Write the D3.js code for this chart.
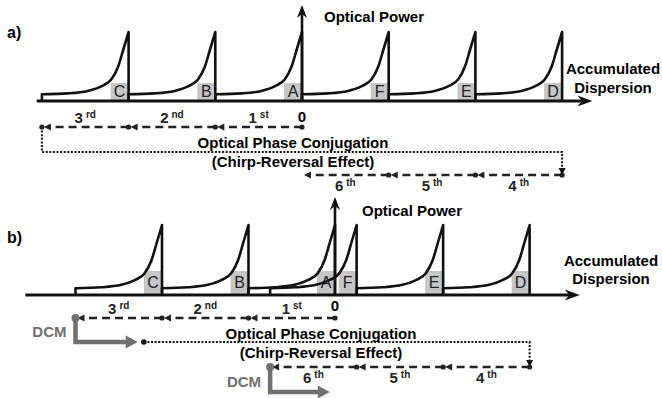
<!DOCTYPE html>
<html>
<head>
<meta charset="utf-8">
<script src="https://cdn.jsdelivr.net/npm/d3@7"></script>
<style>
  body { margin: 0; background: #fff; }
  svg { display: block; font-family: "Liberation Sans", Arial, sans-serif; }
</style>
</head>
<body>
<div class="figure"></div>
<script>
// Pulse labels, left to right along the dispersion axis
const pulseNames = ["C", "B", "A", "F", "E", "D"];

// Peak position of each pulse (in units of one span of accumulated dispersion)
const peaksA = [-2, -1, 0, 1, 2, 3];
const peaksB = [-2, -1, 0, 0.25, 1.25, 2.25];

// Where the tail of each pulse starts
const startsA = [-3, -2, -1, 0, 1, 2];
const startsB = [-3, -2, -1, -0.75, 0.25, 1.25];

// Pulse shape: [fraction of the rise, fraction of peak power]
const profile = [[0, 0.097], [0.3, 0.11], [0.53, 0.145], [0.69, 0.215], [0.8, 0.31], [0.88, 0.5], [0.94, 0.75], [1, 1]];

// Spans in order 1st..6th: [from, to] of accumulated dispersion
const spanNumbers = ["1", "2", "3", "4", "5", "6"];
const spanSuffixes = ["st", "nd", "rd", "th", "th", "th"];
const spansA = [[0, -1], [-1, -2], [-2, -3], [3, 2], [2, 1], [1, 0]];
const spansB = [[0, -1], [-1, -2], [-2, -3], [2.25, 1.25], [1.25, 0.25], [0.25, -0.75]];

// Extent of the dispersion axis
const axisA = [-3.06, 3.35];
const axisB = [-3.58, 2.83];

// Optical phase conjugation jump: [from, to]
const opcA = [-3, 3];
const opcB = [-2.21, 2.25];

// Dispersion compensating modules (only in b): [from, to]
const dcmB = [[-3, -2.28], [-0.75, -0.06]];

let width = 662;
let height = 398;

let svg = d3.select(".figure").append("svg")
    .attr("width", width)
    .attr("height", height)
    .attr("viewBox", `0 0 ${width} ${height}`);

const ink = "#111";
const gray = "#707070";

// Layout of the two panels
let panelA = {
    label: "a)", labelY: 38,
    peaks: peaksA, starts: startsA, spans: spansA, axis: axisA, opc: opcA, dcm: [],
    range: [41.9, 562.1], base: 101, peak: 32, axisTop: 5,
    row1: 127, row2: 175, opcY: 152, opcFromRow: true,
    boxTop: 83, letterY: 97, ordY1: 123, ordY2: 191, zeroY: 122,
    opX: 324, opY: 22, accX: 613, accY: [74, 93],
    opcTextX: 293, opcTextY: [148, 167],
    dcmLevels: []
};

let panelB = {
    label: "b)", labelY: 243,
    peaks: peaksB, starts: startsB, spans: spansB, axis: axisB, opc: opcB, dcm: dcmB,
    range: [75.5, 594.5], base: 295, peak: 225, axisTop: 197,
    row1: 318, row2: 367, opcY: 342, opcFromRow: false,
    boxTop: 271, letterY: 288, ordY1: 314, ordY2: 383, zeroY: 311,
    opX: 362, opY: 216, accX: 611, accY: [266, 284],
    opcTextX: 321, opcTextY: [339, 358],
    dcmLevels: [342, 392]
};

// Arrow head as a closed path, tip at (tx, ty)
function head(tx, ty, dir, len, half) {
    if (dir == "right") return `M${tx},${ty}L${tx - len},${ty - half}L${tx - len * 0.7},${ty}L${tx - len},${ty + half}Z`;
    if (dir == "up") return `M${tx},${ty}L${tx - half},${ty + len}L${tx},${ty + len * 0.7}L${tx + half},${ty + len}Z`;
    if (dir == "left") return `M${tx},${ty}L${tx + len},${ty - half}L${tx + len},${ty + half}Z`;
    if (dir == "fatright") return `M${tx},${ty}L${tx - len},${ty - half}L${tx - len},${ty + half}Z`;
    return `M${tx},${ty}L${tx - half},${ty - len}L${tx + half},${ty - len}Z`;
}

function drawPanel(p) {
    const x = d3.scaleLinear().domain([-3, 3]).range(p.range);
    const y = d3.scaleLinear().domain([0, 1]).range([p.base, p.peak]);
    const g = svg.append("g");

    // Panel label
    g.append("text")
        .attr("x", 7).attr("y", p.labelY)
        .attr("font-size", 16).attr("font-weight", "bold")
        .text(p.label);

    // Gray boxes behind the pulse letters
    g.selectAll(".box").data(p.peaks).join("rect")
        .attr("class", "box")
        .attr("x", d => x(d) - 18)
        .attr("y", p.boxTop)
        .attr("width", 18)
        .attr("height", p.base - p.boxTop)
        .attr("fill", "#c6c6c6");

    g.selectAll(".letter").data(p.peaks).join("text")
        .attr("class", "letter")
        .attr("x", d => x(d) - 9)
        .attr("y", p.letterY)
        .attr("text-anchor", "middle")
        .attr("font-size", 16)
        .attr("fill", "#222")
        .text((d, i) => pulseNames[i]);

    // Pulses
    const line = d3.line().curve(d3.curveMonotoneX);
    g.selectAll(".pulse").data(p.peaks).join("path")
        .attr("class", "pulse")
        .attr("d", (d, i) => {
            const s = p.starts[i];
            const pts = profile.map(([u, h]) => [x(s + u * (d - s)), y(h)]);
            return `M${x(s)},${p.base}L` + line(pts).slice(1) + `L${x(d)},${p.base}`;
        })
        .attr("fill", "none")
        .attr("stroke", ink)
        .attr("stroke-width", 2.6)
        .attr("stroke-linejoin", "round");

    // Dispersion axis
    g.append("line")
        .attr("x1", x(p.axis[0])).attr("x2", x(p.axis[1]) - 8)
        .attr("y1", p.base).attr("y2", p.base)
        .attr("stroke", ink).attr("stroke-width", 3);
    g.append("path").attr("d", head(x(p.axis[1]), p.base, "right", 15, 5.5)).attr("fill", ink);

    // Power axis
    g.append("line")
        .attr("x1", x(0)).attr("x2", x(0))
        .attr("y1", p.base).attr("y2", p.axisTop + 8)
        .attr("stroke", ink).attr("stroke-width", 2.6);
    g.append("path").attr("d", head(x(0), p.axisTop, "up", 13, 5)).attr("fill", ink);

    g.append("text")
        .attr("x", p.opX).attr("y", p.opY)
        .attr("font-size", 15).attr("font-weight", "bold")
        .text("Optical Power");

    g.selectAll(".acc").data(["Accumulated", "Dispersion"]).join("text")
        .attr("class", "acc")
        .attr("x", p.accX).attr("y", (d, i) => p.accY[i])
        .attr("text-anchor", "middle")
        .attr("font-size", 15).attr("font-weight", "bold")
        .text(d => d);

    // Optical phase conjugation jump (dotted)
    const opcStartY = p.opcFromRow ? p.row1 : p.opcY;
    g.append("path")
        .attr("d", `M${x(p.opc[0])},${opcStartY}V${p.opcY}H${x(p.opc[1])}V${p.row2 - 6}`)
        .attr("fill", "none")
        .attr("stroke", ink).attr("stroke-width", 2)
        .attr("stroke-dasharray", "2,1.6");
    g.append("path").attr("d", head(x(p.opc[1]), p.row2, "down", 7, 3.5)).attr("fill", ink);
    if (!p.opcFromRow) {
        g.append("circle").attr("cx", x(p.opc[0])).attr("cy", p.opcY).attr("r", 2.8).attr("fill", ink);
    }

    g.selectAll(".opc").data(["Optical Phase Conjugation", "(Chirp-Reversal Effect)"]).join("text")
        .attr("class", "opc")
        .attr("x", p.opcTextX).attr("y", (d, i) => p.opcTextY[i])
        .attr("text-anchor", "middle")
        .attr("font-size", 15).attr("font-weight", "bold")
        .text(d => d);

    // Spans (dashed, travelling toward negative dispersion)
    const rowOf = i => (i < 3 ? p.row1 : p.row2);
    g.selectAll(".span").data(p.spans).join("line")
        .attr("class", "span")
        .attr("x1", d => x(d[0])).attr("x2", d => x(d[1]) + 6)
        .attr("y1", (d, i) => rowOf(i)).attr("y2", (d, i) => rowOf(i))
        .attr("stroke", "#222").attr("stroke-width", 2.3)
        .attr("stroke-dasharray", "8,5");
    g.selectAll(".spanHead").data(p.spans).join("path")
        .attr("class", "spanHead")
        .attr("d", (d, i) => head(x(d[1]) + 2, rowOf(i), "left", 7, 3.5))
        .attr("fill", "#222");
    g.selectAll(".spanDot").data(p.spans).join("circle")
        .attr("class", "spanDot")
        .attr("cx", d => x(d[0])).attr("cy", (d, i) => rowOf(i))
        .attr("r", 2.6).attr("fill", "#222");
    if (p.opcFromRow) {
        g.append("circle").attr("cx", x(p.opc[0])).attr("cy", p.row1).attr("r", 2.6).attr("fill", "#222");
    }

    const ord = g.selectAll(".ord").data(p.spans).join("text")
        .attr("class", "ord")
        .attr("x", d => x((d[0] + d[1]) / 2))
        .attr("y", (d, i) => (i < 3 ? p.ordY1 : p.ordY2))
        .attr("text-anchor", "middle")
        .attr("font-weight", "bold")
        .attr("fill", "#222");
    ord.append("tspan").attr("font-size", 15).text((d, i) => spanNumbers[i]);
    ord.append("tspan").attr("font-size", 10).attr("dx", 3).attr("dy", -5).text((d, i) => spanSuffixes[i]);

    g.append("text")
        .attr("x", x(0)).attr("y", p.zeroY)
        .attr("text-anchor", "middle")
        .attr("font-size", 15).attr("font-weight", "bold")
        .text("0");

    // Dispersion compensating modules
    p.dcm.forEach((d, i) => {
        const row = i == 0 ? p.row1 : p.row2;
        const level = p.dcmLevels[i];
        g.append("path")
            .attr("d", `M${x(d[0])},${row}V${level}H${x(d[1]) - 10}`)
            .attr("fill", "none")
            .attr("stroke", gray).attr("stroke-width", 4.5);
        g.append("path").attr("d", head(x(d[1]), level, "fatright", 12, 6.5))
            .attr("fill", gray);
        g.append("circle").attr("cx", x(d[0])).attr("cy", row).attr("r", 4).attr("fill", gray);
        g.append("text")
            .attr("x", x(d[0]) - 9).attr("y", level - 5)
            .attr("text-anchor", "end")
            .attr("font-size", 15).attr("font-weight", "bold")
            .attr("fill", gray)
            .text("DCM");
    });
}

drawPanel(panelA);
drawPanel(panelB);
</script>
</body>
</html>
